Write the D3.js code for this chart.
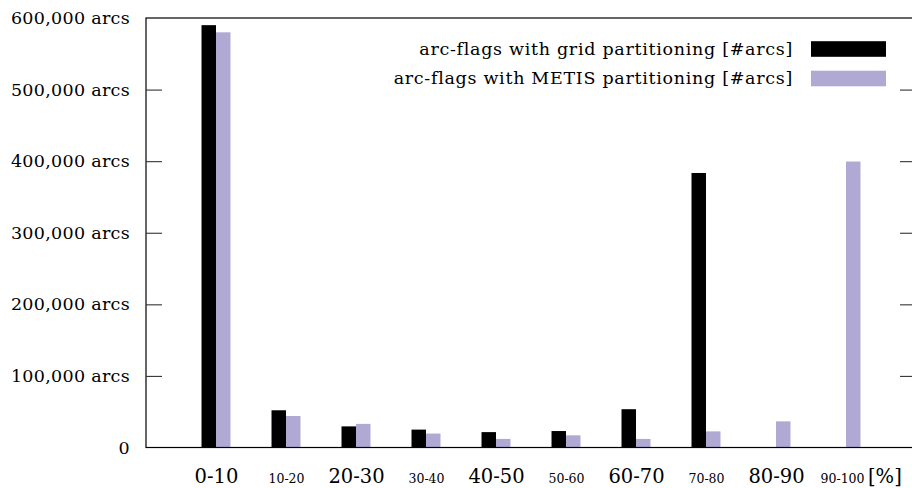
<!DOCTYPE html>
<html>
<head>
<meta charset="utf-8">
<script src="https://cdn.jsdelivr.net/npm/d3@7"></script>
<style>
  html, body { margin: 0; padding: 0; background: #fff; }
  svg { display: block; }
  text { font-family: "DejaVu Serif", "Liberation Serif", serif; fill: #000; }
</style>
</head>
<body>
<svg id="chart" width="912" height="488"></svg>
<script>
// ---- data ----
const categories = ["0-10", "10-20", "20-30", "30-40", "40-50", "50-60", "60-70", "70-80", "80-90", "90-100"];
const smallLabel = [false, true, false, true, false, true, false, true, false, true];
const gridArcs  = [590000, 52000, 29500, 25000, 21500, 23000, 53500, 383500, 0, 0];
const metisArcs = [580000, 44000, 33000, 19500, 12000, 17000, 12000, 22500, 36500, 399500];
const seriesNames = ["arc-flags with grid partitioning [#arcs]", "arc-flags with METIS partitioning [#arcs]"];
const seriesColors = ["#000000", "#afa9d4"];
const yTicks = [0, 100000, 200000, 300000, 400000, 500000, 600000];
const xUnit = "[%]";

// ---- layout ----
const svg = d3.select("#chart");
const mLeft = 146, mRight = 916, mTop = 18, mBottom = 447.5;
const x = d3.scaleLinear().domain([-1, categories.length]).range([mLeft, mRight]);
const y = d3.scaleLinear().domain([0, 600000]).range([mBottom, mTop]);
const bw = 0.207; // bar width in category units

// bars
const series = [gridArcs, metisArcs];
series.forEach((vals, s) => {
  svg.append("g").selectAll("rect").data(vals).join("rect")
    .attr("x", (d, i) => s === 0 ? x(i - bw) : x(i))
    .attr("width", x(bw) - x(0))
    .attr("y", d => y(d))
    .attr("height", d => y(0) - y(d))
    .attr("fill", seriesColors[s]);
});

// frame
svg.append("rect")
  .attr("x", mLeft).attr("y", mTop)
  .attr("width", mRight - mLeft).attr("height", mBottom - mTop)
  .attr("fill", "none").attr("stroke", "#000").attr("stroke-width", 1.2);

// y ticks (left & right, inward)
const tickLen = 16;
const yAxisL = d3.axisLeft(y).tickValues(yTicks).tickSize(-tickLen).tickPadding(16)
  .tickFormat(d => d === 0 ? "0" : d3.format(",")(d) + " arcs");
const gL = svg.append("g").attr("transform", `translate(${mLeft},0)`).call(yAxisL);
gL.select(".domain").remove();
gL.selectAll(".tick line").attr("stroke", "#333").attr("stroke-width", 1.1)
  .filter(d => d === 0 || d === 600000).remove();
gL.selectAll(".tick text")
  .style("font-family", '"DejaVu Serif", serif').style("font-size", "17.5px")
  .style("letter-spacing", "0.3px")
  .attr("fill", "#000");

const yAxisR = d3.axisRight(y).tickValues(yTicks).tickSize(-tickLen).tickFormat("");
const gR = svg.append("g").attr("transform", `translate(${mRight},0)`).call(yAxisR);
gR.select(".domain").remove();
gR.selectAll(".tick line").attr("stroke", "#333").attr("stroke-width", 1.1)
  .filter(d => d === 0 || d === 600000).remove();

// x labels
const xAxis = d3.axisBottom(x).tickValues(d3.range(categories.length)).tickSize(0).tickPadding(0)
  .tickFormat(i => categories[i]);
const gX = svg.append("g").attr("transform", `translate(0,${mBottom})`).call(xAxis);
gX.select(".domain").remove();
gX.selectAll(".tick text")
  .attr("y", 35.5).attr("dy", null)
  .style("font-family", '"DejaVu Serif", serif')
  .style("font-size", i => smallLabel[i] ? "12.5px" : "19.5px")
  .attr("fill", "#000")
  .attr("dx", (i) => i === categories.length - 1 ? -4 : 0);

// unit label after last category
svg.append("text")
  .attr("x", 868).attr("y", mBottom + 35.5)
  .style("font-size", "19.5px")
  .text(xUnit);

// legend
const legend = svg.append("g");
seriesNames.forEach((name, s) => {
  const cy = 49 + s * 29.5;
  legend.append("text")
    .attr("x", 793).attr("y", cy + 5.5)
    .attr("text-anchor", "end")
    .style("font-size", "17.5px")
    .style("letter-spacing", "0.7px")
    .text(name);
  legend.append("rect")
    .attr("x", 811).attr("y", cy - 7.8)
    .attr("width", 75).attr("height", 15.6)
    .attr("fill", seriesColors[s]);
});
</script>
</body>
</html>
